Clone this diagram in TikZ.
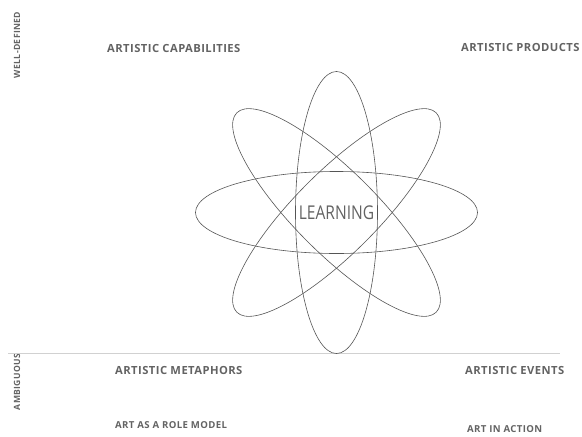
\documentclass[tikz,border=0pt]{standalone}
\usepackage{fontspec}
\setmainfont{Open Sans}
\newfontfamily\labelfont{Open Sans}[LetterSpace=4]
\newfontfamily\learnfont{Open Sans}[FakeStretch=0.82]
\usepackage{tikz}
\usetikzlibrary{positioning}
\definecolor{inkgray}{HTML}{636363}
\definecolor{orbitgray}{HTML}{555555}
\tikzset{
	quadrant/.style={anchor=west,inner sep=0pt,text=inkgray,font=\labelfont\bfseries\fontsize{11.2}{13}\selectfont},
	subquadrant/.style={quadrant,font=\labelfont\bfseries\fontsize{9.6}{11}\selectfont},
	axislabel/.style={rotate=90,inner sep=0pt,text=inkgray,font=\labelfont\bfseries\fontsize{8.6}{10}\selectfont},
	orbit/.style={draw=orbitgray,line width=0.6pt}
}
\begin{document}
\begin{tikzpicture}[x=1pt,y=-1pt]
	\useasboundingbox (0,0) rectangle (582,437);
	% Achsen
		\node (well) at (17,45) [axislabel] {WELL-DEFINED};
		\node (ambig) at (17,382) [axislabel] {AMBIGUOUS};
		\coordinate (lineL) at (8,353);
		\coordinate (lineR) at (560,353);
		\draw[black!18,line width=0.5pt] (lineL) -- (lineR);
	% Bahnen
		\coordinate (core) at (336.5,212.5);
		\foreach \a in {0,45,90,135}
			\draw[orbit,rotate around={\a:(core)}] (core) ellipse [x radius=141,y radius=41];
		\node (learn) at (core) [text=inkgray,inner sep=0pt,font=\learnfont\fontsize{19}{22}\selectfont] {LEARNING};
	% Felder
		\node (cap) at (107,48) [quadrant] {ARTISTIC CAPABILITIES};
		\node (prod) at (461,47) [quadrant] {ARTISTIC PRODUCTS};
		\node (meta) at (115,370) [quadrant] {ARTISTIC METAPHORS};
		\node (events) at (465,370) [quadrant] {ARTISTIC EVENTS};
		\node (role) at (115,425) [subquadrant] {ART AS A ROLE MODEL};
		\node (action) at (467,429) [subquadrant] {ART IN ACTION};
\end{tikzpicture}
\end{document}
